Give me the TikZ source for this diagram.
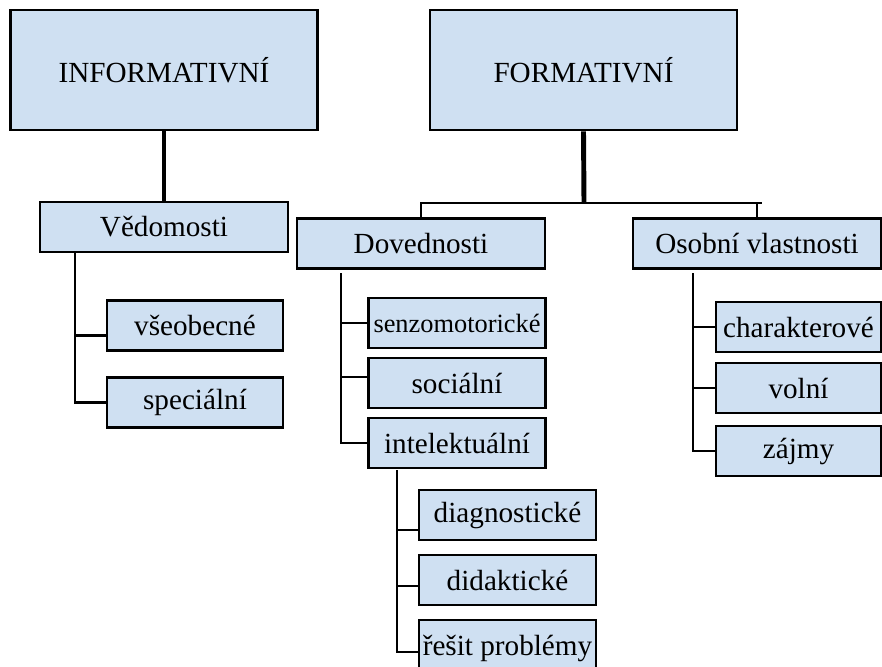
\documentclass[tikz,border=0pt]{standalone}
\usepackage{fontspec}
\setmainfont{Liberation Serif}
\usetikzlibrary{calc}
\definecolor{boxblue}{HTML}{CFE0F2}

\tikzset{
  box/.style={draw,fill=boxblue,line width=0.7pt,inner sep=0pt,font=\fontsize{8.3}{10}\selectfont},
  headbox/.style={box,minimum width=3.07cm,minimum height=1.2cm},
  groupbox/.style={box,minimum width=2.48cm,minimum height=0.5cm},
  itembox/.style={box,minimum width=1.77cm,minimum height=0.5cm},
  link/.style={line width=0.6pt},
  trunk/.style={line width=1.4pt},
}

\begin{document}
\begin{tikzpicture}[x=0.01cm,y=-0.01cm]
  \useasboundingbox (0,0) rectangle (882,666);
  % top level
  \node[headbox] (inf) at (164,70) {INFORMATIVNÍ};
  \node[headbox] (form) at (583.5,70) {FORMATIVNÍ};
  % second level
  \node[groupbox] (ved) at (164,227) {Vědomosti};
  \node[groupbox] (dov) at (421,243.5) {Dovednosti};
  \node[groupbox] (osob) at (757,243.5) {Osobní vlastnosti};
  % items
  \node[itembox,minimum width=1.76cm] (vseob) at (195,325.5) {všeobecné};
  \node[itembox,minimum width=1.76cm] (spec) at (195,402.5) {speciální};
  \node[itembox,font=\fontsize{7.5}{9}\selectfont] (senz) at (457,323) {senzomotorické};
  \node[itembox] (soc) at (457,383) {sociální};
  \node[itembox] (intel) at (457,443) {intelektuální};
  \node[itembox] (diag) at (507.5,515) {diagnostické};
  \node[itembox] (didak) at (507.5,580) {didaktické};
  \node[itembox,minimum height=0.56cm] (resit) at (507.5,648) {řešit problémy};
  \node[itembox,minimum width=1.65cm] (char) at (798.5,327) {charakterové};
  \node[itembox,minimum width=1.65cm] (voln) at (798.5,388) {volní};
  \node[itembox,minimum width=1.65cm] (zajmy) at (798.5,451) {zájmy};

  \coordinate (fork) at (584,203);
  \coordinate (forkend) at (762,203);
  \coordinate (vedt) at (75,252);
  \coordinate (dovt) at (341,273);
  \coordinate (intt) at (397,470);
  \coordinate (osobt) at (693,273);

  \draw[trunk] (inf) -- (ved);
  \draw[trunk] (form.south) -- (fork);
  \draw[line width=0.75pt] (dov.north) |- (forkend);
  \draw[link] (osob.north) -- (osob.north |- forkend);

  \draw[link] (vedt) |- (spec.west);
  \draw[link] ($(vseob.west)+(0,10)$) -- +(-32,0);

  \draw[link] (dovt) |- (intel.west);
  \draw[link] (dovt |- senz.west) -- (senz.west);
  \draw[link] ($(soc.west)+(0,-6)$) -- +(-25,0);

  \draw[link] (intt) |- ($(resit.west)+(0,4)$);
  \draw[link] ($(diag.west)+(0,15)$) -- +(-22,0);
  \draw[link] ($(didak.west)+(0,6)$) -- +(-22,0);

  \draw[link] (osobt) |- (zajmy.west);
  \draw[link] (osobt |- char.west) -- (char.west);
  \draw[link] (osobt |- voln.west) -- (voln.west);
\end{tikzpicture}
\end{document}
